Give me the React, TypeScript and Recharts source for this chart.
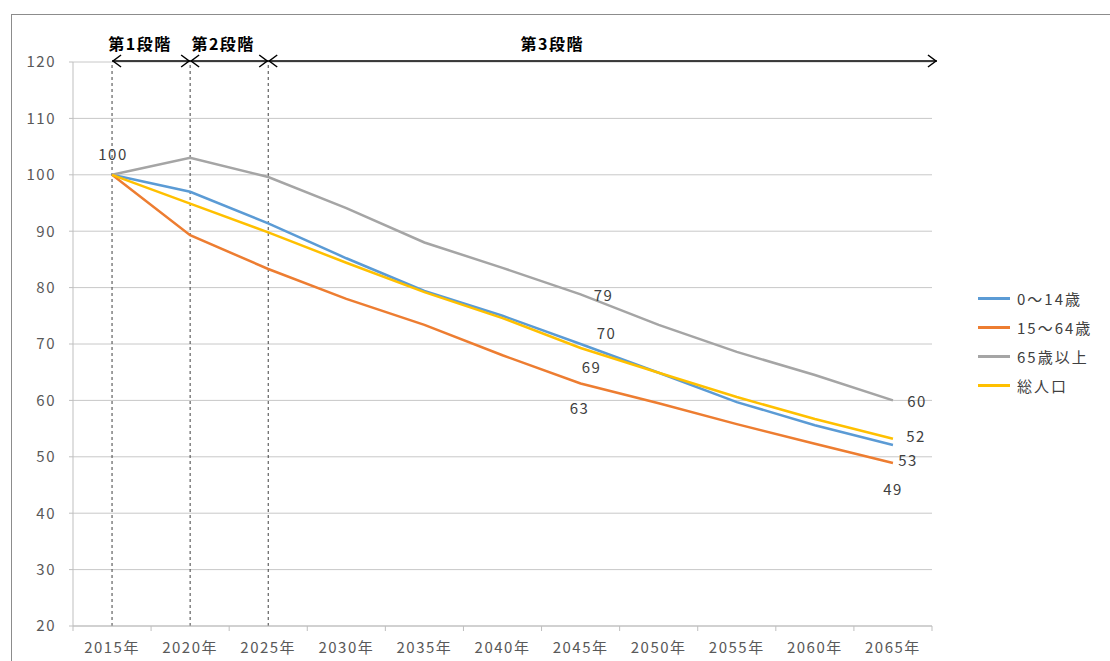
import React from "react";
import {
	LineChart,
	Line,
	XAxis,
	YAxis,
	CartesianGrid,
	ReferenceLine,
	LabelList,
} from "recharts";

const years = [
	"2015年", "2020年", "2025年", "2030年", "2035年", "2040年",
	"2045年", "2050年", "2055年", "2060年", "2065年",
];
const age0to14 = [100, 97.0, 91.4, 85.2, 79.4, 75.0, 70.0, 64.9, 59.7, 55.6, 52.1];
const age15to64 = [100, 89.3, 83.3, 78.0, 73.4, 68.0, 63.0, 59.5, 55.8, 52.3, 48.9];
const age65plus = [100, 103.0, 99.6, 94.1, 88.0, 83.5, 78.8, 73.4, 68.6, 64.5, 60.0];
const totalPop = [100, 94.9, 89.8, 84.4, 79.2, 74.6, 69.3, 64.9, 60.6, 56.7, 53.2];

const seriesNames = ["0～14歳", "15～64歳", "65歳以上", "総人口"];
const seriesKeys = ["a", "b", "c", "d"];
const seriesColors = ["#5B9BD5", "#ED7D31", "#A5A5A5", "#FFC000"];

const yTicks = [20, 30, 40, 50, 60, 70, 80, 90, 100, 110, 120];

const stageLabels = ["第1段階", "第2段階", "第3段階"];
const stageStarts = ["2015年", "2020年", "2025年"];
const stageEnds = ["2020年", "2025年", "2065年"];

const data = years.map((year, i) => ({
	year,
	a: age0to14[i],
	b: age15to64[i],
	c: age65plus[i],
	d: totalPop[i],
}));

const FONT = '"Noto Sans CJK JP", "Noto Sans", sans-serif';
const PLOT_LEFT = 73;
const PLOT_RIGHT = 932;
const BAND = (PLOT_RIGHT - PLOT_LEFT) / years.length;

// where Excel put each data label, relative to its point
const labelOffsets: Record<string, Record<number, [number, number]>> = {
	a: { 6: [26, -12], 10: [23, -9] },
	b: { 6: [-1, 24], 10: [0, 25] },
	c: { 0: [1, -21], 6: [23, 0], 10: [24, 0] },
	d: { 6: [11, 19], 10: [15, 21] },
};
const stageTextDx = [28, 33, 284];

const makeLabel = (key: string) => (props: any) => {
	const { x, y, index, value } = props;
	const off = labelOffsets[key][index];
	if (!off) return null;
	return (
		<text
			x={x + off[0]}
			y={y + off[1]}
			textAnchor="middle"
			dominantBaseline="central"
			fontSize={15}
			letterSpacing={1.5}
			fontFamily={FONT}
			fill="#404040"
		>
			{Math.round(value)}
		</text>
	);
};

const XTick = (props: any) => {
	const { x, y, payload, index } = props;
	const left = x - BAND / 2;
	return (
		<g>
			<line x1={left} y1={y - 5} x2={left} y2={y} stroke="#bfbfbf" />
			{index === years.length - 1 && (
				<line x1={x + BAND / 2} y1={y - 5} x2={x + BAND / 2} y2={y} stroke="#bfbfbf" />
			)}
			<text
				x={x}
				y={y + 22}
				textAnchor="middle"
				fontSize={15}
				fontFamily={FONT}
				letterSpacing={1.5}
				fill="#595959"
			>
				{payload.value}
			</text>
		</g>
	);
};

const makeArrow = (i: number) => (props: any) => {
	const { x1, y1, x2 } = props;
	const end = i === stageLabels.length - 1 ? x2 + 44 : x2;
	const y = y1 - 1;
	return (
		<g>
			<line x1={x1} y1={y} x2={end} y2={y} stroke="#000" strokeWidth={1.5} />
			<path
				d={`M${x1 + 9},${y - 6} L${x1 + 1},${y} L${x1 + 9},${y + 6}`}
				fill="none"
				stroke="#000"
				strokeWidth={1.5}
			/>
			<path
				d={`M${end - 9},${y - 6} L${end - 1},${y} L${end - 9},${y + 6}`}
				fill="none"
				stroke="#000"
				strokeWidth={1.5}
			/>
			<text
				x={x1 + stageTextDx[i]}
				y={y - 18}
				textAnchor="middle"
				dominantBaseline="central"
				fontSize={16}
				letterSpacing={1.5}
				fontWeight="bold"
				fontFamily={FONT}
				fill="#000"
			>
				{stageLabels[i]}
			</text>
		</g>
	);
};

export default function App() {
	return (
		<div
			style={{
				position: "absolute",
				left: 0,
				top: 0,
				width: 1110,
				height: 661,
				overflow: "hidden",
				background: "#fff",
			}}
		>
			<div
				style={{
					position: "absolute",
					left: 11,
					top: 14,
					width: 1200,
					height: 800,
					borderLeft: "1px solid #8c8c8c",
					borderTop: "1px solid #8c8c8c",
				}}
			/>
			<div style={{ position: "absolute", left: 0, top: 0 }}>
				<LineChart
					width={1110}
					height={661}
					data={data}
					margin={{ top: 62, right: 1110 - PLOT_RIGHT, bottom: 0, left: 0 }}
				>
					<CartesianGrid vertical={false} stroke="#c8c8c8" />
					<XAxis
						dataKey="year"
						height={35}
						padding={{ left: BAND / 2, right: BAND / 2 }}
						axisLine={{ stroke: "#bfbfbf" }}
						tickLine={false}
						tickSize={5}
						tickMargin={0}
						tick={<XTick />}
						interval={0}
					/>
					<YAxis
						width={PLOT_LEFT}
						domain={[20, 120]}
						ticks={yTicks}
						interval={0}
						axisLine={{ stroke: "#bfbfbf" }}
						tickLine={{ stroke: "#bfbfbf" }}
						tickSize={4}
						tickMargin={13}
						tick={{ fill: "#595959", fontSize: 15, fontFamily: FONT, letterSpacing: 1.5 }}
					/>
					{stageStarts.map((s) => (
						<ReferenceLine
							key={"v" + s}
							x={s}
							stroke="#404040"
							strokeDasharray="3 3"
						/>
					))}
					{seriesKeys.map((k, i) => (
						<Line
							key={k}
							dataKey={k}
							name={seriesNames[i]}
							stroke={seriesColors[i]}
							strokeWidth={2.5}
							dot={false}
							activeDot={false}
							isAnimationActive={false}
						>
							<LabelList dataKey={k} content={makeLabel(k)} />
						</Line>
					))}
					{stageLabels.map((label, i) => (
						<ReferenceLine
							key={label}
							segment={[
								{ x: stageStarts[i], y: 120 },
								{ x: stageEnds[i], y: 120 },
							]}
							ifOverflow="visible"
							shape={makeArrow(i)}
						/>
					))}
				</LineChart>
			</div>
			<div
				style={{
					position: "absolute",
					left: 978,
					top: 284,
					fontFamily: FONT,
					fontSize: 15,
					color: "#404040",
				}}
			>
				{seriesNames.map((n, i) => (
					<div
						key={n}
						style={{ display: "flex", alignItems: "center", height: 29 }}
					>
						<span
							style={{
								display: "inline-block",
								width: 32,
								height: 2.5,
								background: seriesColors[i],
								marginRight: 7,
							}}
						/>
						<span style={{ letterSpacing: 2 }}>{n}</span>
					</div>
				))}
			</div>
		</div>
	);
}
